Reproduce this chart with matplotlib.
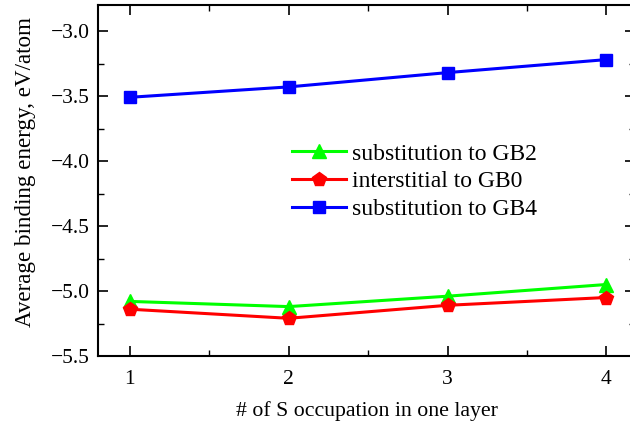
import matplotlib
matplotlib.use("Agg")
import matplotlib.pyplot as plt
from matplotlib.ticker import MultipleLocator

plt.rcParams['font.family'] = ['Liberation Serif', 'DejaVu Serif']

occupation = [1, 2, 3, 4]
sub_gb2 = [-5.08, -5.12, -5.04, -4.95]
int_gb0 = [-5.14, -5.21, -5.11, -5.05]
sub_gb4 = [-3.51, -3.43, -3.32, -3.22]
labels = ["substitution to GB2", "interstitial to GB0", "substitution to GB4"]
y_ticks = [-5.5, -5.0, -4.5, -4.0, -3.5, -3.0]
y_ticklabels = ["\u22125.5", "\u22125.0", "\u22124.5", "\u22124.0", "\u22123.5", "\u22123.0"]

fig = plt.figure(figsize=(6.30, 4.23), dpi=100)
ax = fig.add_axes([98/630, (423-356)/423, (635-98)/630, (356-5)/423])

ax.plot(occupation, sub_gb2, color='#00FF00', lw=2.2, marker='^', ms=9.5, label=labels[0])
ax.plot(occupation, int_gb0, color='#FF0000', lw=2.2, marker='p', ms=10, label=labels[1])
ax.plot(occupation, sub_gb4, color='#0000FF', lw=2.2, marker='s', ms=9, label=labels[2])

ax.set_xlim(0.8, 4.18)
ax.set_ylim(-5.5, -2.80)
ax.xaxis.set_major_locator(MultipleLocator(1))
ax.xaxis.set_minor_locator(MultipleLocator(0.5))
ax.yaxis.set_minor_locator(MultipleLocator(0.25))
ax.set_yticks(y_ticks)
ax.set_yticklabels(y_ticklabels)

ax.tick_params(which='major', direction='in', length=7, width=1.2, labelsize=15.5,
               right=True, top=True, pad=6)
ax.tick_params(which='minor', direction='in', length=4, width=1.0, right=True, top=True)
ax.tick_params(axis='x', which='major', pad=10)
for s in ax.spines.values():
    s.set_linewidth(1.5)

ax.set_xlabel("# of S occupation in one layer", fontsize=15.7, labelpad=9)
ax.set_ylabel("Average binding energy, eV/atom", fontsize=16.6)
ax.yaxis.set_label_coords(-0.115, 0.524)

leg = ax.legend(loc='upper left', bbox_to_anchor=(292/630, 1-143/423), bbox_transform=fig.transFigure,
                frameon=False, fontsize=17, handlelength=2.3, handletextpad=0.25,
                labelspacing=0.26, borderpad=0, borderaxespad=0)

fig.savefig("out.png", dpi=100)
